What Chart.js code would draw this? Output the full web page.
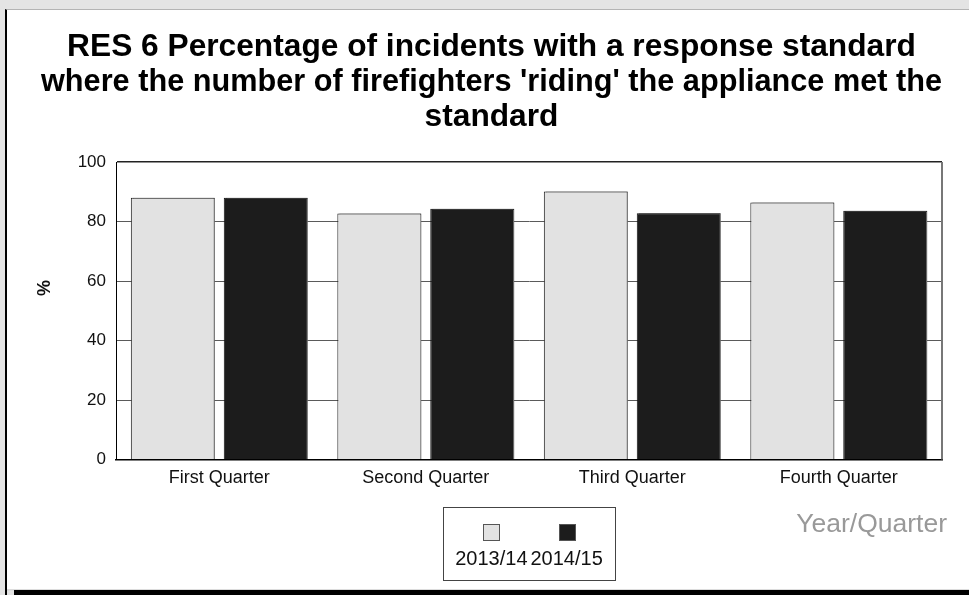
<!DOCTYPE html>
<html>
<head>
<meta charset="utf-8">
<script src="https://cdn.jsdelivr.net/npm/chart.js@4.4.1/dist/chart.umd.min.js"></script>
<style>
  html, body { margin: 0; padding: 0; }
  body { width: 969px; height: 595px; background: #e4e4e4; position: relative; overflow: hidden; }
  #panel { position: absolute; left: 5px; top: 9px; width: 962px; height: 579px; background: #fff;
           border-left: 2px solid #000; border-top: 1px solid #b4b4b4; border-bottom: 2px solid #dcdcdc; }
  #shadowB { position: absolute; left: 14px; top: 590px; width: 955px; height: 5px; background: #000; }
  #shadowL { position: absolute; left: 5px; top: 588px; width: 2px; height: 7px; background: #000; }
  #wrap { position: absolute; left: 0; top: 0; width: 969px; height: 595px; }
</style>
</head>
<body>
<div id="panel"></div>
<div id="shadowB"></div>
<div id="shadowL"></div>
<div id="wrap"><canvas id="chart" width="969" height="595"></canvas></div>
<script>
const FONT = '"Liberation Sans", Arial, sans-serif';

const titleLines = [
    "RES 6 Percentage of incidents with a response standard",
    "where the number of firefighters 'riding' the appliance met the",
    "standard"
];
const quarters = ["First Quarter", "Second Quarter", "Third Quarter", "Fourth Quarter"];
const seriesNames = ["2013/14", "2014/15"];
const values1314 = [88.0, 82.7, 90.1, 86.4];
const values1415 = [88.0, 84.3, 82.8, 83.6];
const yTicks = [0, 20, 40, 60, 80, 100];
const yTitle = "%";
const xTitle = "Year/Quarter";

// grey shadow on the right of every bar
const barShadow = {
    id: 'barShadow',
    beforeDatasetsDraw(chart) {
        const ctx = chart.ctx;
        ctx.save();
        ctx.shadowColor = '#7a7a7a';
        ctx.shadowOffsetX = 2;
        ctx.shadowOffsetY = 0;
        ctx.shadowBlur = 0;
    },
    afterDatasetsDraw(chart) {
        chart.ctx.restore();
    }
};

// right border of plot, axis titles and the boxed legend
const extras = {
    id: 'extras',
    afterDraw(chart) {
        const ctx = chart.ctx;
        const a = chart.chartArea;
        ctx.save();
        ctx.strokeStyle = '#777';
        ctx.lineWidth = 2;
        ctx.beginPath();
        ctx.moveTo(a.right, a.top);
        ctx.lineTo(a.right, a.bottom);
        ctx.stroke();

        // y title
        ctx.fillStyle = '#111';
        ctx.font = 'bold 18px ' + FONT;
        ctx.textAlign = 'center';
        ctx.textBaseline = 'middle';
        ctx.translate(45, 288);
        ctx.rotate(-Math.PI / 2);
        ctx.fillText(yTitle, 0, 0);
        ctx.restore();

        // x title
        ctx.save();
        ctx.fillStyle = '#999';
        ctx.font = '26.5px ' + FONT;
        ctx.textAlign = 'right';
        ctx.textBaseline = 'alphabetic';
        ctx.fillText(xTitle, a.right + 5, 532);

        // legend
        ctx.font = '20px ' + FONT;
        const ds = chart.data.datasets;
        const widths = ds.map(d => ctx.measureText(d.label).width);
        const gap = 3, padX = 12;
        const inner = widths.reduce((s, w) => s + w, 0) + gap * (ds.length - 1);
        const boxW = inner + padX * 2;
        const cx = (a.left + a.right) / 2;
        const left = cx - boxW / 2;
        const top = 507, boxH = 73;
        ctx.fillStyle = '#fff';
        ctx.fillRect(left, top, boxW, boxH);
        ctx.strokeStyle = '#444';
        ctx.lineWidth = 1;
        ctx.strokeRect(Math.round(left) + 0.5, top + 0.5, Math.round(boxW), boxH);
        let x = left + padX;
        ds.forEach((d, i) => {
            const mid = x + widths[i] / 2;
            ctx.fillStyle = d.backgroundColor;
            ctx.fillRect(Math.round(mid - 8), 524, 16, 16);
            ctx.strokeStyle = '#555';
            ctx.strokeRect(Math.round(mid - 8) + 0.5, 524.5, 16, 16);
            ctx.fillStyle = '#111';
            ctx.textAlign = 'center';
            ctx.fillText(d.label, mid, 565);
            x += widths[i] + gap;
        });
        ctx.restore();
    }
};

new Chart(document.getElementById('chart'), {
    type: 'bar',
    data: {
        labels: quarters,
        datasets: [{
            label: seriesNames[0],
            data: values1314,
            backgroundColor: '#e2e2e2',
            borderColor: '#1a1a1a',
            borderWidth: 1
        }, {
            label: seriesNames[1],
            data: values1415,
            backgroundColor: '#1c1c1c',
            borderColor: '#111',
            borderWidth: 1
        }]
    },
    options: {
        responsive: false,
        animation: false,
        events: [],
        layout: { padding: { top: 28, left: 41, right: 27, bottom: 95.5 } },
        datasets: {
            bar: { categoryPercentage: 0.9, barPercentage: 0.903 }
        },
        plugins: {
            legend: { display: false },
            tooltip: { enabled: false },
            title: {
                display: true,
                text: titleLines,
                color: '#000',
                font: { family: FONT, size: 31.7, weight: 'bold', lineHeight: 35 / 31.7 },
                padding: { top: 2, bottom: 27 }
            }
        },
        scales: {
            x: {
                grid: { display: false, drawTicks: false },
                border: { display: true, color: '#000', width: 1.5 },
                ticks: { color: '#111', font: { family: FONT, size: 18 }, padding: 8, maxRotation: 0 },
                afterFit(scale) { scale.height = 40; }
            },
            y: {
                min: 0,
                max: 100,
                afterBuildTicks(scale) { scale.ticks = yTicks.map(v => ({ value: v })); },
                grid: {
                    drawTicks: false,
                    color: ctx => (ctx.tick && ctx.tick.value === 100) ? '#222' : '#5a5a5a',
                    lineWidth: ctx => (ctx.tick && ctx.tick.value === 100) ? 1.5 : 1
                },
                border: { display: true, color: '#000', width: 1 },
                ticks: { color: '#111', font: { family: FONT, size: 17 }, padding: 10 },
                afterFit(scale) { scale.width = 75; }
            }
        }
    },
    plugins: [barShadow, extras]
});
</script>
</body>
</html>
